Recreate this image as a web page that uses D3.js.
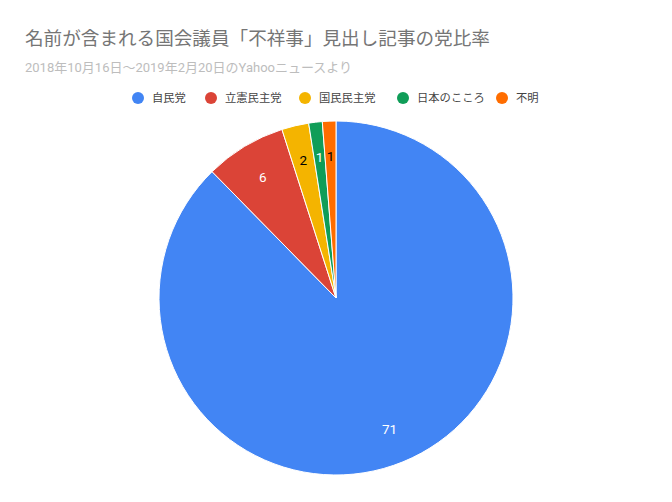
<!DOCTYPE html>
<html>
<head>
<meta charset="utf-8">
<script src="https://cdn.jsdelivr.net/npm/d3@7"></script>
<style>
  body { margin: 0; background: #fff; }
  text { font-family: Roboto, "Noto Sans CJK JP", sans-serif; }
</style>
</head>
<body>
<div id="chart"></div>
<script>
// data
var parties = ["自民党", "立憲民主党", "国民民主党", "日本のこころ", "不明"];
var counts = [71, 6, 2, 1, 1];
var colors = ["#4285f4", "#db4437", "#f4b400", "#0f9d58", "#ff6d00"];
var labelColors = ["#fff", "#fff", "#000", "#fff", "#000"];

var svgWidth = 672;
var svgHeight = 502;

var svg = d3.select("#chart")
    .append("svg")
    .attr("width", svgWidth)
    .attr("height", svgHeight);

// title + subtitle
svg.append("text")
    .attr("x", 25)
    .attr("y", 45)
    .attr("font-size", 18.6)
    .attr("fill", "#757575")
    .text("名前が含まれる国会議員「不祥事」見出し記事の党比率");

svg.append("text")
    .attr("x", 25)
    .attr("y", 72)
    .attr("font-size", 13)
    .attr("fill", "#bdbdbd")
    .text("2018年10月16日～2019年2月20日のYahooニュースより");

// legend
var legendX = [138, 211, 305, 403, 502];
var legend = svg.append("g")
    .selectAll("g")
    .data(parties)
    .enter()
    .append("g")
    .attr("transform", (d, i) => `translate(${legendX[i]}, 98)`);

legend.append("circle")
    .attr("r", 6)
    .attr("fill", (d, i) => colors[i]);

legend.append("text")
    .attr("x", 14)
    .attr("dy", "0.35em")
    .attr("font-size", 11.3)
    .attr("fill", "#444")
    .text(d => d);

// pie
var cx = 336, cy = 298, radius = 177;

var pie = d3.pie().sort(null).value(d => d);
var arc = d3.arc().innerRadius(0).outerRadius(radius);
var labelArc = d3.arc().innerRadius(radius * 0.8).outerRadius(radius * 0.8);

var pieGroup = svg.append("g")
    .attr("transform", `translate(${cx}, ${cy})`);

var slices = pieGroup.selectAll("path")
    .data(pie(counts))
    .enter();

slices.append("path")
    .attr("d", arc)
    .attr("fill", (d, i) => colors[i])
    .attr("stroke", "#fff")
    .attr("stroke-width", 1);

slices.append("text")
    .attr("transform", d => `translate(${labelArc.centroid(d)})`)
    .attr("text-anchor", "middle")
    .attr("dy", "0.35em")
    .attr("font-size", 13.5)
    .attr("fill", (d, i) => labelColors[i])
    .text(d => d.data);
</script>
</body>
</html>
